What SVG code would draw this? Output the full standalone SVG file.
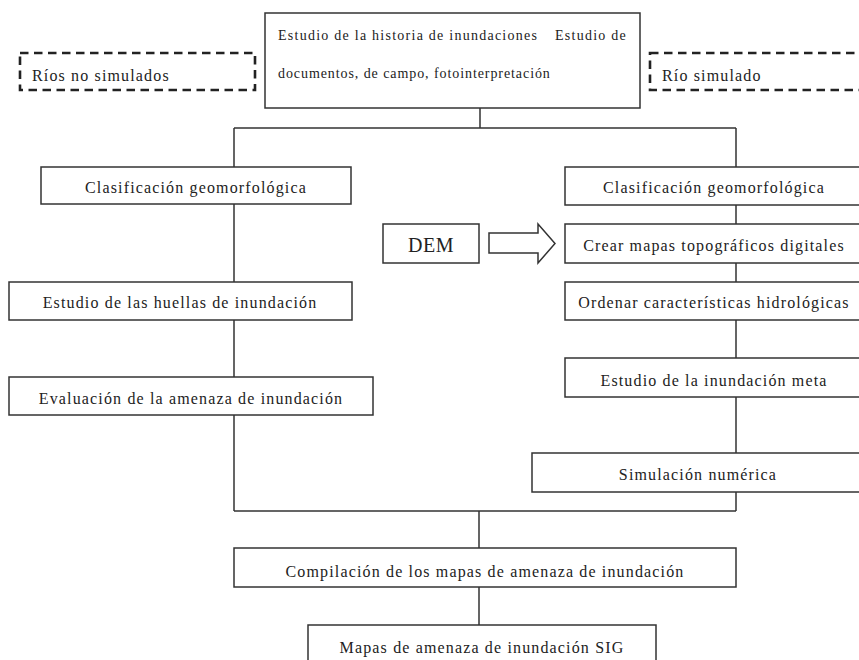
<svg xmlns="http://www.w3.org/2000/svg" width="859" height="660" viewBox="0 0 859 660">
<style>
.box{fill:#fff;stroke:#333;stroke-width:1.5}
.dash{fill:none;stroke:#222;stroke-width:2.6;stroke-dasharray:8.5 5.5}
.t{font-family:"Liberation Serif","Times New Roman",serif;font-size:16px;letter-spacing:1.15px;fill:#222}
.c{text-anchor:middle}
.s{font-size:14px;letter-spacing:1.25px}
.ln{fill:none;stroke:#333;stroke-width:1.5}
</style>
<rect width="859" height="660" fill="#fff"/>
<g id="connectors">
<path class="ln" d="M480 108V128M234 128H736M234 128V167M736 128V167"/>
<path class="ln" d="M234 204V282M234 320V377M234 415V511"/>
<path class="ln" d="M736 205V224M736 263V282M736 320V358M736 397V453M736 492V511"/>
<path class="ln" d="M234 511H736M479 511V548M479 587V625"/>
<path id="dem-arrow" d="M489 233H538V224L555 243.5L538 263V253H489Z" fill="#fff" stroke="#333" stroke-width="1.5"/>
</g>
<g id="rios-no-simulados">
<rect class="dash" x="20" y="53" width="235" height="37"/>
<text class="t" x="32" y="81">Ríos no simulados</text>
</g>
<g id="rio-simulado">
<rect class="dash" x="650" y="53" width="230" height="37"/>
<text class="t" x="662" y="81">Río simulado</text>
</g>
<g id="estudio-historia">
<rect class="box" x="265" y="13" width="375" height="95"/>
<text class="t s" x="278" y="40">Estudio de la historia de inundaciones</text>
<text class="t s" x="555" y="40">Estudio de</text>
<text class="t s" x="278" y="78" style="letter-spacing:0.92px">documentos, de campo, fotointerpretación</text>
</g>
<g id="clasif-izq">
<rect class="box" x="41" y="167" width="310" height="37"/>
<text class="t c" x="196" y="193">Clasificación geomorfológica</text>
</g>
<g id="huellas">
<rect class="box" x="9" y="282" width="343" height="38"/>
<text class="t c" x="180" y="308">Estudio de las huellas de inundación</text>
</g>
<g id="evaluacion">
<rect class="box" x="9" y="377" width="364" height="38"/>
<text class="t c" x="191" y="404">Evaluación de la amenaza de inundación</text>
</g>
<g id="dem">
<rect class="box" x="383" y="224" width="96" height="39"/>
<text class="t c" x="431" y="252" style="font-size:20px;letter-spacing:0.5px">DEM</text>
</g>
<g id="clasif-der">
<rect class="box" x="565" y="167" width="298" height="38"/>
<text class="t c" x="714" y="193">Clasificación geomorfológica</text>
</g>
<g id="crear-mapas">
<rect class="box" x="565" y="224" width="298" height="39"/>
<text class="t c" x="714" y="251">Crear mapas topográficos digitales</text>
</g>
<g id="ordenar">
<rect class="box" x="565" y="282" width="298" height="38"/>
<text class="t c" x="714" y="308">Ordenar características hidrológicas</text>
</g>
<g id="inundacion-meta">
<rect class="box" x="565" y="358" width="298" height="39"/>
<text class="t c" x="714" y="386">Estudio de la inundación meta</text>
</g>
<g id="simulacion">
<rect class="box" x="532" y="453" width="332" height="39"/>
<text class="t c" x="698" y="480">Simulación numérica</text>
</g>
<g id="compilacion">
<rect class="box" x="234" y="548" width="502" height="39"/>
<text class="t c" x="485" y="577">Compilación de los mapas de amenaza de inundación</text>
</g>
<g id="mapas-sig">
<rect class="box" x="308" y="625" width="348" height="45"/>
<text class="t c" x="482" y="653">Mapas de amenaza de inundación SIG</text>
</g>
</svg>
